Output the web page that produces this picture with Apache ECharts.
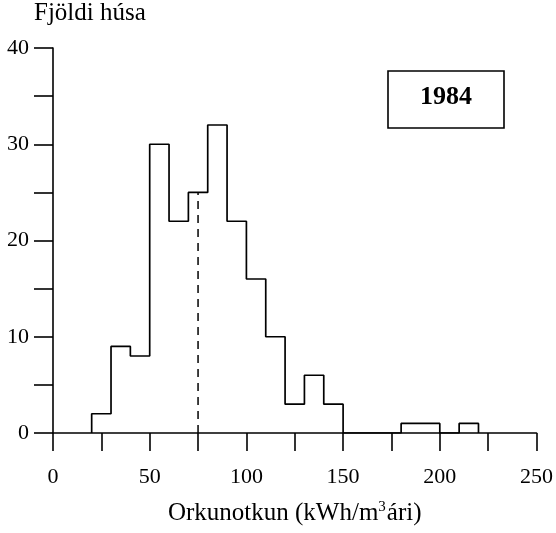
<!DOCTYPE html>
<html>
<head>
<meta charset="utf-8">
<script src="https://cdn.jsdelivr.net/npm/echarts@6/dist/echarts.min.js"></script>
<style>
  html, body { margin: 0; padding: 0; background: #fff; }
  #main { width: 556px; height: 533px; }
</style>
</head>
<body>
<div id="main"></div>
<script>
// histogram bins, width 10
var binStart = [20, 30, 40, 50, 60, 70, 80, 90, 100, 110, 120, 130, 140, 150, 160, 170, 180, 190, 200, 210];
var binWidth = 10;
var counts = [2, 9, 8, 30, 22, 25, 32, 22, 16, 10, 3, 6, 3, 0, 0, 0, 1, 1, 0, 1];
var medianX = 75;
var medianTop = 25;
var yearLabel = '1984';

var font = '"Liberation Serif", "DejaVu Serif", serif';

// step outline of the histogram
var outline = [[binStart[0], 0]];
for (var i = 0; i < binStart.length; i++) {
  outline.push([binStart[i], counts[i]]);
  outline.push([binStart[i] + binWidth, counts[i]]);
}
outline.push([binStart[binStart.length - 1] + binWidth, 0]);

var chart = echarts.init(document.getElementById('main'));
var option = {
  animation: false,
  backgroundColor: '#fff',
  grid: { left: 53, right: 18, top: 48, bottom: 100 },
  xAxis: {
    type: 'value',
    min: 0, max: 250, interval: 25,
    name: 'Orkunotkun (kWh/m{sup|3}ári)',
    nameLocation: 'middle',
    nameGap: 67,
    nameTextStyle: {
      fontFamily: font, fontSize: 25, color: '#000',
      rich: { sup: { fontFamily: font, fontSize: 15, color: '#000', verticalAlign: 'top', padding: [0, 1, 12, 0] } }
    },
    axisLine: { lineStyle: { color: '#000', width: 1.6 } },
    axisTick: { length: 18, lineStyle: { color: '#000', width: 1.6 } },
    axisLabel: {
      margin: 33, fontFamily: font, fontSize: 22, color: '#000',
      formatter: function (v) { return v % 50 === 0 ? String(v) : ''; }
    },
    splitLine: { show: false }
  },
  yAxis: {
    type: 'value',
    min: 0, max: 40, interval: 5,
    axisLine: { show: true, lineStyle: { color: '#000', width: 1.6 } },
    axisTick: { show: true, length: 19, lineStyle: { color: '#000', width: 1.6 } },
    axisLabel: {
      margin: 24, fontFamily: font, fontSize: 22, color: '#000',
      formatter: function (v) { return v % 10 === 0 ? String(v) : ''; }
    },
    splitLine: { show: false }
  },
  graphic: [
    {
      type: 'text', x: 34, y: 1,
      style: { text: 'Fjöldi húsa', font: '25px ' + font, fill: '#000' }
    },
    {
      type: 'rect', x: 388, y: 71,
      shape: { width: 116, height: 57 },
      style: { fill: '#fff', stroke: '#000', lineWidth: 1.6 }
    },
    {
      type: 'text', x: 446, y: 97,
      style: { text: yearLabel, font: 'bold 26px ' + font, fill: '#000', align: 'center', verticalAlign: 'middle' }
    }
  ],
  series: [
    {
      type: 'line',
      data: outline,
      symbol: 'none',
      lineStyle: { color: '#000', width: 1.7 }
    },
    {
      type: 'line',
      data: [[medianX, 0], [medianX, medianTop]],
      symbol: 'none',
      lineStyle: { color: '#000', width: 1.5, type: [8, 6] }
    }
  ]
};
chart.setOption(option);
</script>
</body>
</html>
